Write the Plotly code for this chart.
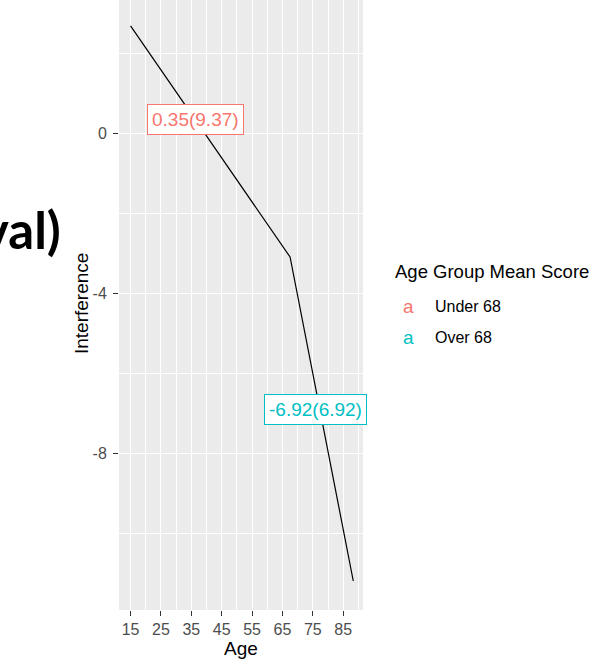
import plotly.graph_objects as go

# fitted interference curve (age -> interference)
ages = [15, 67.5, 88.3]
interference = [2.68, -3.1, -11.2]

# group mean labels
groups = ["Under 68", "Over 68"]
group_colors = ["#F8766D", "#00BFC4"]
label_ages = [36.5, 76]
label_means = [0.35, -6.92]
label_texts = ["0.35(9.37)", "-6.92(6.92)"]

x_ticks = [15, 25, 35, 45, 55, 65, 75, 85]
y_ticks = [0, -4, -8]
y_tick_text = ["0", "-4", "-8"]

W, H = 597, 669
L, R, T, B = 119, 234, 0, 59
PW, PH = W - L - R, H - T - B


def px(x):
    return (x - L) / PW


def py(y):
    return (H - B - y) / PH


fig = go.Figure()
fig.add_trace(go.Scatter(x=ages, y=interference, mode='lines',
                         line=dict(color='black', width=1.2),
                         showlegend=False, hoverinfo='skip'))

font = "Liberation Sans, Arial, sans-serif"

for a, m, t, c in zip(label_ages, label_means, label_texts, group_colors):
    fig.add_annotation(x=a, y=m, text=t, showarrow=False,
                       font=dict(family=font, size=19, color=c),
                       bgcolor='white', bordercolor=c, borderwidth=1,
                       borderpad=4)

# legend drawn as text (ggplot "a" keys)
fig.add_annotation(xref='paper', yref='paper', x=px(393), y=py(271),
                   xanchor='left', yanchor='middle', showarrow=False,
                   text="Age Group Mean Score",
                   font=dict(family=font, size=18.5, color='black'))
for i, (g, c) in enumerate(zip(groups, group_colors)):
    yy = 306 + 31 * i
    fig.add_annotation(xref='paper', yref='paper', x=px(408), y=py(yy),
                       xanchor='center', yanchor='middle', showarrow=False,
                       text="a", font=dict(family=font, size=19, color=c))
    fig.add_annotation(xref='paper', yref='paper', x=px(433), y=py(yy),
                       xanchor='left', yanchor='middle', showarrow=False,
                       text=g, font=dict(family=font, size=16, color='black'))

# y axis title
fig.add_annotation(xref='paper', yref='paper', x=px(81), y=py(304),
                   xanchor='center', yanchor='middle', showarrow=False,
                   textangle=-90, text="Interference",
                   font=dict(family=font, size=19, color='black'))

# slide title fragment on the left
fig.add_annotation(xref='paper', yref='paper', x=px(63), y=py(229),
                   xanchor='right', yanchor='middle', showarrow=False,
                   text="<b>val)</b>",
                   font=dict(family="Lato, sans-serif", size=51, color='black'))

fig.update_layout(
    width=W, height=H,
    margin=dict(l=L, r=R, t=T, b=B, autoexpand=False),
    paper_bgcolor='white', plot_bgcolor='#EBEBEB',
    showlegend=False,
    xaxis=dict(range=[11.2, 91.5], tickvals=x_ticks, ticks='outside',
               ticklen=5, tickcolor='#333333', tickwidth=1.2,
               tickfont=dict(family=font, size=16, color='#4D4D4D'),
               showgrid=True, gridcolor='white', gridwidth=1.3,
               minor=dict(tickvals=[20, 30, 40, 50, 60, 70, 80, 90],
                          showgrid=True, gridcolor='white', gridwidth=0.6),
               zeroline=False, showline=False, automargin=False,
               title=dict(text='Age', standoff=3,
                          font=dict(family=font, size=19, color='black'))),
    yaxis=dict(range=[-11.925, 3.325], tickvals=y_ticks, ticktext=y_tick_text,
               ticks='outside', ticklen=5, tickcolor='#333333', tickwidth=1.2,
               ticklabelstandoff=3,
               tickfont=dict(family=font, size=16, color='#4D4D4D'),
               showgrid=True, gridcolor='white', gridwidth=1.3,
               minor=dict(tickvals=[2, -2, -6, -10],
                          showgrid=True, gridcolor='white', gridwidth=0.6),
               zeroline=False, showline=False, automargin=False),
)

fig.write_html("out.html", config={'displayModeBar': False},
               post_script="document.body.style.margin='0';")
